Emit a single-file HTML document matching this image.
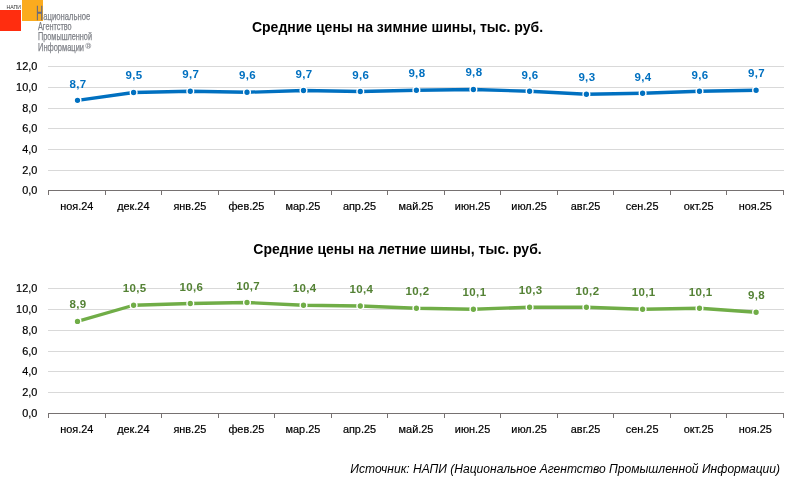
<!DOCTYPE html>
<html><head><meta charset="utf-8">
<style>
html,body{margin:0;padding:0;background:#fff;}
body{width:800px;height:481px;overflow:hidden;font-family:"Liberation Sans",sans-serif;}
svg{display:block;will-change:transform;}
text{font-family:"Liberation Sans",sans-serif;}
.ax{font-size:10.9px;fill:#000;stroke:#000;stroke-width:0.2px;}
.dl{font-size:11.5px;font-weight:bold;letter-spacing:0.35px;}
.title{font-size:14px;font-weight:bold;fill:#000;}
.src{font-size:12.07px;font-style:italic;fill:#000;}
.logo{font-size:10.8px;fill:#7e8087;stroke:#7e8087;stroke-width:0.25px;}
</style></head><body>
<svg width="800" height="481" viewBox="0 0 800 481">
<rect width="800" height="481" fill="#fff"/>
<!-- logo -->
<rect x="0" y="10" width="21" height="21" fill="#ff2d0f"/>
<rect x="22" y="0" width="21" height="21" fill="#fbab1e"/>
<text x="6.5" y="9" font-size="5.2" fill="#333" textLength="14.5" lengthAdjust="spacingAndGlyphs">НАПИ</text>
<text x="36.3" y="19.8" font-size="20" fill="#666a7e" stroke="#666a7e" stroke-width="0.55" textLength="6.6" lengthAdjust="spacingAndGlyphs">Н</text>
<g class="logo">
<text x="43.3" y="19.7" textLength="47" lengthAdjust="spacingAndGlyphs">ациональное</text>
<text x="38" y="29.7" textLength="33.6" lengthAdjust="spacingAndGlyphs">Агентство</text>
<text x="38" y="40.2" textLength="54" lengthAdjust="spacingAndGlyphs">Промышленной</text>
<text x="38" y="51.2" textLength="46" lengthAdjust="spacingAndGlyphs">Информации</text>
<circle cx="88.2" cy="45.8" r="2.6" fill="none" stroke="#9a9ca2" stroke-width="0.7"/>
<text x="86.9" y="47.5" font-size="4.5" stroke="none" fill="#8a8c92" font-weight="bold">R</text>
</g>
<text x="397.5" y="32" text-anchor="middle" class="title">Средние цены на зимние шины, тыс. руб.</text>
<text x="397.5" y="254" text-anchor="middle" class="title">Средние цены на летние шины, тыс. руб.</text>
<rect x="48" y="66" width="736" height="1" fill="#d9d9d9"/>
<rect x="48" y="87" width="736" height="1" fill="#d9d9d9"/>
<rect x="48" y="108" width="736" height="1" fill="#d9d9d9"/>
<rect x="48" y="128" width="736" height="1" fill="#d9d9d9"/>
<rect x="48" y="149" width="736" height="1" fill="#d9d9d9"/>
<rect x="48" y="170" width="736" height="1" fill="#d9d9d9"/>
<rect x="48" y="190" width="736" height="1" fill="#767171"/>
<rect x="48" y="190" width="1" height="5" fill="#767171"/>
<rect x="105" y="190" width="1" height="5" fill="#767171"/>
<rect x="161" y="190" width="1" height="5" fill="#767171"/>
<rect x="218" y="190" width="1" height="5" fill="#767171"/>
<rect x="274" y="190" width="1" height="5" fill="#767171"/>
<rect x="331" y="190" width="1" height="5" fill="#767171"/>
<rect x="387" y="190" width="1" height="5" fill="#767171"/>
<rect x="444" y="190" width="1" height="5" fill="#767171"/>
<rect x="500" y="190" width="1" height="5" fill="#767171"/>
<rect x="557" y="190" width="1" height="5" fill="#767171"/>
<rect x="613" y="190" width="1" height="5" fill="#767171"/>
<rect x="670" y="190" width="1" height="5" fill="#767171"/>
<rect x="726" y="190" width="1" height="5" fill="#767171"/>
<rect x="783" y="190" width="1" height="5" fill="#767171"/>
<text x="37.3" y="70.40" text-anchor="end" class="ax">12,0</text>
<text x="37.3" y="91.40" text-anchor="end" class="ax">10,0</text>
<text x="37.3" y="112.40" text-anchor="end" class="ax">8,0</text>
<text x="37.3" y="132.40" text-anchor="end" class="ax">6,0</text>
<text x="37.3" y="153.40" text-anchor="end" class="ax">4,0</text>
<text x="37.3" y="174.40" text-anchor="end" class="ax">2,0</text>
<text x="37.3" y="194.40" text-anchor="end" class="ax">0,0</text>
<text x="76.77" y="209.70" text-anchor="middle" class="ax">ноя.24</text>
<text x="133.31" y="209.70" text-anchor="middle" class="ax">дек.24</text>
<text x="189.85" y="209.70" text-anchor="middle" class="ax">янв.25</text>
<text x="246.38" y="209.70" text-anchor="middle" class="ax">фев.25</text>
<text x="302.92" y="209.70" text-anchor="middle" class="ax">мар.25</text>
<text x="359.46" y="209.70" text-anchor="middle" class="ax">апр.25</text>
<text x="416.00" y="209.70" text-anchor="middle" class="ax">май.25</text>
<text x="472.54" y="209.70" text-anchor="middle" class="ax">июн.25</text>
<text x="529.08" y="209.70" text-anchor="middle" class="ax">июл.25</text>
<text x="585.62" y="209.70" text-anchor="middle" class="ax">авг.25</text>
<text x="642.15" y="209.70" text-anchor="middle" class="ax">сен.25</text>
<text x="698.69" y="209.70" text-anchor="middle" class="ax">окт.25</text>
<text x="755.23" y="209.70" text-anchor="middle" class="ax">ноя.25</text>
<polyline fill="none" stroke="#0070c0" stroke-width="3.3" stroke-linejoin="round" stroke-linecap="round" points="77.50,100.35 133.60,92.50 190.30,91.25 247.00,92.25 303.50,90.50 360.30,91.50 416.40,90.25 473.40,89.50 529.60,91.25 586.40,94.25 642.60,93.25 699.50,91.25 756.10,90.25"/>
<circle cx="77.50" cy="100.35" r="3.35" fill="#0070c0" stroke="#fff" stroke-width="1.4"/>
<text x="78.00" y="87.70" text-anchor="middle" class="dl" fill="#0070c0">8,7</text>
<circle cx="133.60" cy="92.50" r="3.35" fill="#0070c0" stroke="#fff" stroke-width="1.4"/>
<text x="134.10" y="78.75" text-anchor="middle" class="dl" fill="#0070c0">9,5</text>
<circle cx="190.30" cy="91.25" r="3.35" fill="#0070c0" stroke="#fff" stroke-width="1.4"/>
<text x="190.80" y="78.00" text-anchor="middle" class="dl" fill="#0070c0">9,7</text>
<circle cx="247.00" cy="92.25" r="3.35" fill="#0070c0" stroke="#fff" stroke-width="1.4"/>
<text x="247.50" y="79.00" text-anchor="middle" class="dl" fill="#0070c0">9,6</text>
<circle cx="303.50" cy="90.50" r="3.35" fill="#0070c0" stroke="#fff" stroke-width="1.4"/>
<text x="304.00" y="78.00" text-anchor="middle" class="dl" fill="#0070c0">9,7</text>
<circle cx="360.30" cy="91.50" r="3.35" fill="#0070c0" stroke="#fff" stroke-width="1.4"/>
<text x="360.80" y="79.00" text-anchor="middle" class="dl" fill="#0070c0">9,6</text>
<circle cx="416.40" cy="90.25" r="3.35" fill="#0070c0" stroke="#fff" stroke-width="1.4"/>
<text x="416.90" y="77.00" text-anchor="middle" class="dl" fill="#0070c0">9,8</text>
<circle cx="473.40" cy="89.50" r="3.35" fill="#0070c0" stroke="#fff" stroke-width="1.4"/>
<text x="473.90" y="76.00" text-anchor="middle" class="dl" fill="#0070c0">9,8</text>
<circle cx="529.60" cy="91.25" r="3.35" fill="#0070c0" stroke="#fff" stroke-width="1.4"/>
<text x="530.10" y="79.25" text-anchor="middle" class="dl" fill="#0070c0">9,6</text>
<circle cx="586.40" cy="94.25" r="3.35" fill="#0070c0" stroke="#fff" stroke-width="1.4"/>
<text x="586.90" y="81.10" text-anchor="middle" class="dl" fill="#0070c0">9,3</text>
<circle cx="642.60" cy="93.25" r="3.35" fill="#0070c0" stroke="#fff" stroke-width="1.4"/>
<text x="643.10" y="81.00" text-anchor="middle" class="dl" fill="#0070c0">9,4</text>
<circle cx="699.50" cy="91.25" r="3.35" fill="#0070c0" stroke="#fff" stroke-width="1.4"/>
<text x="700.00" y="79.00" text-anchor="middle" class="dl" fill="#0070c0">9,6</text>
<circle cx="756.10" cy="90.25" r="3.35" fill="#0070c0" stroke="#fff" stroke-width="1.4"/>
<text x="756.60" y="77.00" text-anchor="middle" class="dl" fill="#0070c0">9,7</text>
<rect x="48" y="288" width="736" height="1" fill="#d9d9d9"/>
<rect x="48" y="309" width="736" height="1" fill="#d9d9d9"/>
<rect x="48" y="330" width="736" height="1" fill="#d9d9d9"/>
<rect x="48" y="351" width="736" height="1" fill="#d9d9d9"/>
<rect x="48" y="371" width="736" height="1" fill="#d9d9d9"/>
<rect x="48" y="392" width="736" height="1" fill="#d9d9d9"/>
<rect x="48" y="413" width="736" height="1" fill="#767171"/>
<rect x="48" y="413" width="1" height="5" fill="#767171"/>
<rect x="105" y="413" width="1" height="5" fill="#767171"/>
<rect x="161" y="413" width="1" height="5" fill="#767171"/>
<rect x="218" y="413" width="1" height="5" fill="#767171"/>
<rect x="274" y="413" width="1" height="5" fill="#767171"/>
<rect x="331" y="413" width="1" height="5" fill="#767171"/>
<rect x="387" y="413" width="1" height="5" fill="#767171"/>
<rect x="444" y="413" width="1" height="5" fill="#767171"/>
<rect x="500" y="413" width="1" height="5" fill="#767171"/>
<rect x="557" y="413" width="1" height="5" fill="#767171"/>
<rect x="613" y="413" width="1" height="5" fill="#767171"/>
<rect x="670" y="413" width="1" height="5" fill="#767171"/>
<rect x="726" y="413" width="1" height="5" fill="#767171"/>
<rect x="783" y="413" width="1" height="5" fill="#767171"/>
<text x="37.3" y="292.40" text-anchor="end" class="ax">12,0</text>
<text x="37.3" y="313.40" text-anchor="end" class="ax">10,0</text>
<text x="37.3" y="334.40" text-anchor="end" class="ax">8,0</text>
<text x="37.3" y="355.40" text-anchor="end" class="ax">6,0</text>
<text x="37.3" y="375.40" text-anchor="end" class="ax">4,0</text>
<text x="37.3" y="396.40" text-anchor="end" class="ax">2,0</text>
<text x="37.3" y="417.40" text-anchor="end" class="ax">0,0</text>
<text x="76.77" y="432.70" text-anchor="middle" class="ax">ноя.24</text>
<text x="133.31" y="432.70" text-anchor="middle" class="ax">дек.24</text>
<text x="189.85" y="432.70" text-anchor="middle" class="ax">янв.25</text>
<text x="246.38" y="432.70" text-anchor="middle" class="ax">фев.25</text>
<text x="302.92" y="432.70" text-anchor="middle" class="ax">мар.25</text>
<text x="359.46" y="432.70" text-anchor="middle" class="ax">апр.25</text>
<text x="416.00" y="432.70" text-anchor="middle" class="ax">май.25</text>
<text x="472.54" y="432.70" text-anchor="middle" class="ax">июн.25</text>
<text x="529.08" y="432.70" text-anchor="middle" class="ax">июл.25</text>
<text x="585.62" y="432.70" text-anchor="middle" class="ax">авг.25</text>
<text x="642.15" y="432.70" text-anchor="middle" class="ax">сен.25</text>
<text x="698.69" y="432.70" text-anchor="middle" class="ax">окт.25</text>
<text x="755.23" y="432.70" text-anchor="middle" class="ax">ноя.25</text>
<polyline fill="none" stroke="#70ad47" stroke-width="3.3" stroke-linejoin="round" stroke-linecap="round" points="77.50,321.40 133.60,305.25 190.30,303.50 247.00,302.50 303.50,305.25 360.30,306.00 416.40,308.25 473.40,309.25 529.60,307.25 586.40,307.25 642.60,309.25 699.50,308.25 756.10,312.25"/>
<circle cx="77.50" cy="321.40" r="3.35" fill="#70ad47" stroke="#fff" stroke-width="1.4"/>
<text x="78.00" y="307.50" text-anchor="middle" class="dl" fill="#548235">8,9</text>
<circle cx="133.60" cy="305.25" r="3.35" fill="#70ad47" stroke="#fff" stroke-width="1.4"/>
<text x="134.70" y="291.75" text-anchor="middle" class="dl" fill="#548235">10,5</text>
<circle cx="190.30" cy="303.50" r="3.35" fill="#70ad47" stroke="#fff" stroke-width="1.4"/>
<text x="191.40" y="290.75" text-anchor="middle" class="dl" fill="#548235">10,6</text>
<circle cx="247.00" cy="302.50" r="3.35" fill="#70ad47" stroke="#fff" stroke-width="1.4"/>
<text x="248.10" y="290.00" text-anchor="middle" class="dl" fill="#548235">10,7</text>
<circle cx="303.50" cy="305.25" r="3.35" fill="#70ad47" stroke="#fff" stroke-width="1.4"/>
<text x="304.60" y="291.75" text-anchor="middle" class="dl" fill="#548235">10,4</text>
<circle cx="360.30" cy="306.00" r="3.35" fill="#70ad47" stroke="#fff" stroke-width="1.4"/>
<text x="361.40" y="292.75" text-anchor="middle" class="dl" fill="#548235">10,4</text>
<circle cx="416.40" cy="308.25" r="3.35" fill="#70ad47" stroke="#fff" stroke-width="1.4"/>
<text x="417.50" y="294.75" text-anchor="middle" class="dl" fill="#548235">10,2</text>
<circle cx="473.40" cy="309.25" r="3.35" fill="#70ad47" stroke="#fff" stroke-width="1.4"/>
<text x="474.50" y="295.75" text-anchor="middle" class="dl" fill="#548235">10,1</text>
<circle cx="529.60" cy="307.25" r="3.35" fill="#70ad47" stroke="#fff" stroke-width="1.4"/>
<text x="530.70" y="293.75" text-anchor="middle" class="dl" fill="#548235">10,3</text>
<circle cx="586.40" cy="307.25" r="3.35" fill="#70ad47" stroke="#fff" stroke-width="1.4"/>
<text x="587.50" y="294.75" text-anchor="middle" class="dl" fill="#548235">10,2</text>
<circle cx="642.60" cy="309.25" r="3.35" fill="#70ad47" stroke="#fff" stroke-width="1.4"/>
<text x="643.70" y="295.75" text-anchor="middle" class="dl" fill="#548235">10,1</text>
<circle cx="699.50" cy="308.25" r="3.35" fill="#70ad47" stroke="#fff" stroke-width="1.4"/>
<text x="700.60" y="295.75" text-anchor="middle" class="dl" fill="#548235">10,1</text>
<circle cx="756.10" cy="312.25" r="3.35" fill="#70ad47" stroke="#fff" stroke-width="1.4"/>
<text x="756.60" y="298.75" text-anchor="middle" class="dl" fill="#548235">9,8</text>
<text x="780" y="472.6" text-anchor="end" class="src">Источник: НАПИ (Национальное Агентство Промышленной Информации)</text>
</svg>
</body></html>
